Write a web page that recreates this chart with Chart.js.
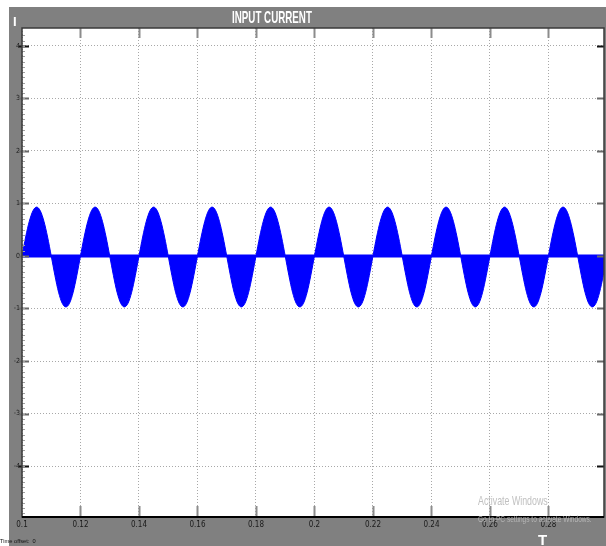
<!DOCTYPE html>
<html>
<head>
<meta charset="utf-8">
<script src="https://cdn.jsdelivr.net/npm/chart.js@4"></script>
<style>
  body { margin: 0; width: 606px; height: 546px; overflow: hidden; position: relative; background: #fff; font-family: "Liberation Sans", sans-serif; }
  #panel { position: absolute; left: 9px; top: 7px; width: 597px; height: 539px; background: #808080; }
  #plot { position: absolute; left: 0; top: 0; }
  .txt { position: absolute; white-space: nowrap; transform-origin: 0 0; }
  #title { left: 232px; top: 8px; color: #fff; font: bold 17px "Liberation Sans", sans-serif; }
  #cursorI { left: 13px; top: 14px; color: #fff; font: bold 13px "Liberation Sans", sans-serif; }
  #cursorT { left: 538px; top: 531px; color: #fff; font: bold 15px "Liberation Sans", sans-serif; }
  #offset { left: 0; top: 538px; color: #111; font: 6px "Liberation Sans", sans-serif; }
  #wm1 { left: 478px; top: 493px; color: rgba(185,185,185,0.9); font: 13px "Liberation Sans", sans-serif; }
  #wm2 { left: 478px; top: 514px; color: rgba(190,190,190,0.85); font: 9px "Liberation Sans", sans-serif; }
</style>
</head>
<body>
<div id="panel"><canvas id="plot" width="597" height="539"></canvas></div>
<div class="txt" id="title" data-w="80">INPUT CURRENT</div>
<div class="txt" id="cursorI">I</div>
<div class="txt" id="cursorT">T</div>
<div class="txt" id="offset" data-w="36">Time offset:&nbsp; 0</div>
<div class="txt" id="wm1" data-w="70">Activate Windows</div>
<div class="txt" id="wm2" data-w="114">Go to PC settings to activate Windows.</div>
<script>
'use strict';

// sample times (s) and input current envelope
let times = [
  0.10000, 0.10125, 0.10250, 0.10375, 0.10500, 0.10625, 0.10750, 0.10875,
  0.11000, 0.11125, 0.11250, 0.11375, 0.11500, 0.11625, 0.11750, 0.11875,
  0.12000, 0.12125, 0.12250, 0.12375, 0.12500, 0.12625, 0.12750, 0.12875,
  0.13000, 0.13125, 0.13250, 0.13375, 0.13500, 0.13625, 0.13750, 0.13875,
  0.14000, 0.14125, 0.14250, 0.14375, 0.14500, 0.14625, 0.14750, 0.14875,
  0.15000, 0.15125, 0.15250, 0.15375, 0.15500, 0.15625, 0.15750, 0.15875,
  0.16000, 0.16125, 0.16250, 0.16375, 0.16500, 0.16625, 0.16750, 0.16875,
  0.17000, 0.17125, 0.17250, 0.17375, 0.17500, 0.17625, 0.17750, 0.17875,
  0.18000, 0.18125, 0.18250, 0.18375, 0.18500, 0.18625, 0.18750, 0.18875,
  0.19000, 0.19125, 0.19250, 0.19375, 0.19500, 0.19625, 0.19750, 0.19875,
  0.20000, 0.20125, 0.20250, 0.20375, 0.20500, 0.20625, 0.20750, 0.20875,
  0.21000, 0.21125, 0.21250, 0.21375, 0.21500, 0.21625, 0.21750, 0.21875,
  0.22000, 0.22125, 0.22250, 0.22375, 0.22500, 0.22625, 0.22750, 0.22875,
  0.23000, 0.23125, 0.23250, 0.23375, 0.23500, 0.23625, 0.23750, 0.23875,
  0.24000, 0.24125, 0.24250, 0.24375, 0.24500, 0.24625, 0.24750, 0.24875,
  0.25000, 0.25125, 0.25250, 0.25375, 0.25500, 0.25625, 0.25750, 0.25875,
  0.26000, 0.26125, 0.26250, 0.26375, 0.26500, 0.26625, 0.26750, 0.26875,
  0.27000, 0.27125, 0.27250, 0.27375, 0.27500, 0.27625, 0.27750, 0.27875,
  0.28000, 0.28125, 0.28250, 0.28375, 0.28500, 0.28625, 0.28750, 0.28875,
  0.29000, 0.29125, 0.29250, 0.29375, 0.29500, 0.29625, 0.29750, 0.29875,
  0.30000
];
let current = [
  0, 0.36, 0.66, 0.86, 0.93, 0.86, 0.66, 0.36, 0, -0.37, -0.69, -0.90, -0.97, -0.90, -0.69, -0.37,
  0, 0.36, 0.66, 0.86, 0.93, 0.86, 0.66, 0.36, 0, -0.37, -0.69, -0.90, -0.97, -0.90, -0.69, -0.37,
  0, 0.36, 0.66, 0.86, 0.93, 0.86, 0.66, 0.36, 0, -0.37, -0.69, -0.90, -0.97, -0.90, -0.69, -0.37,
  0, 0.36, 0.66, 0.86, 0.93, 0.86, 0.66, 0.36, 0, -0.37, -0.69, -0.90, -0.97, -0.90, -0.69, -0.37,
  0, 0.36, 0.66, 0.86, 0.93, 0.86, 0.66, 0.36, 0, -0.37, -0.69, -0.90, -0.97, -0.90, -0.69, -0.37,
  0, 0.36, 0.66, 0.86, 0.93, 0.86, 0.66, 0.36, 0, -0.37, -0.69, -0.90, -0.97, -0.90, -0.69, -0.37,
  0, 0.36, 0.66, 0.86, 0.93, 0.86, 0.66, 0.36, 0, -0.37, -0.69, -0.90, -0.97, -0.90, -0.69, -0.37,
  0, 0.36, 0.66, 0.86, 0.93, 0.86, 0.66, 0.36, 0, -0.37, -0.69, -0.90, -0.97, -0.90, -0.69, -0.37,
  0, 0.36, 0.66, 0.86, 0.93, 0.86, 0.66, 0.36, 0, -0.37, -0.69, -0.90, -0.97, -0.90, -0.69, -0.37,
  0, 0.36, 0.66, 0.86, 0.93, 0.86, 0.66, 0.36, 0, -0.37, -0.69, -0.90, -0.97, -0.90, -0.69, -0.37,
  0
];
let baseTimes = [0.1, 0.3];
let baseValues = [0, 0];

let xTicks = [0.1, 0.12, 0.14, 0.16, 0.18, 0.2, 0.22, 0.24, 0.26, 0.28];
let xTickLabels = ['0.1', '0.12', '0.14', '0.16', '0.18', '0.2', '0.22', '0.24', '0.26', '0.28'];
let yTicks = [-4, -3, -2, -1, 0, 1, 2, 3, 4];

let tickFont = '"Liberation Sans Narrow", "DejaVu Sans Condensed", "Liberation Sans", sans-serif';

// squeeze the condensed screen texts to their measured widths
document.querySelectorAll('.txt[data-w]').forEach(function (el) {
  let w = parseFloat(el.dataset.w);
  el.style.transform = 'scaleX(' + (w / el.offsetWidth) + ')';
});

let scopeFrame = {
  id: 'scopeFrame',
  beforeDraw: function (chart) {
    let a = chart.chartArea;
    let ctx = chart.ctx;
    ctx.save();
    ctx.fillStyle = '#ffffff';
    ctx.fillRect(a.left, a.top, a.right - a.left, a.bottom - a.top);
    ctx.restore();
  },
  afterDraw: function (chart) {
    let a = chart.chartArea;
    let ctx = chart.ctx;
    let xs = chart.scales.x;
    let ys = chart.scales.y;
    ctx.save();
    // inner tick marks
    ctx.strokeStyle = '#8c8c8c';
    ctx.lineWidth = 2;
    xTicks.forEach(function (v, i) {
      if (i === 0) return;
      let px = Math.round(xs.getPixelForValue(v)) + 0.5;
      ctx.beginPath();
      ctx.moveTo(px, a.top); ctx.lineTo(px, a.top + 10);
      ctx.moveTo(px, a.bottom); ctx.lineTo(px, a.bottom - 11);
      ctx.stroke();
    });
    yTicks.forEach(function (v) {
      let py = Math.round(ys.getPixelForValue(v)) + 0.5;
      ctx.strokeStyle = (v === 4 || v === -4) ? '#111' : '#6a6a6a';
      ctx.beginPath();
      ctx.moveTo(a.left - 3, py); ctx.lineTo(a.left + 7, py);
      ctx.moveTo(a.right, py); ctx.lineTo(a.right - 7, py);
      ctx.stroke();
    });
    // minor ticks on the left edge
    ctx.strokeStyle = '#a0a0a0';
    ctx.lineWidth = 1;
    for (let v = -4.9; v < 4.3; v += 0.1) {
      let py = Math.round(ys.getPixelForValue(v)) + 0.5;
      ctx.beginPath();
      ctx.moveTo(a.left, py); ctx.lineTo(a.left + 3, py);
      ctx.stroke();
    }
    // frame
    ctx.strokeStyle = '#3a3a3a';
    ctx.lineWidth = 1.5;
    ctx.strokeRect(a.left, a.top, a.right - a.left, a.bottom - a.top);
    ctx.strokeStyle = '#000';
    ctx.lineWidth = 2;
    ctx.beginPath();
    ctx.moveTo(a.left, a.bottom); ctx.lineTo(a.right, a.bottom);
    ctx.stroke();
    ctx.restore();
  }
};

let ctx = document.getElementById('plot').getContext('2d');
let chart = new Chart(ctx, { //eslint-disable-line
  type: 'line',
  data: {
    datasets: [{
      label: 'Input current',
      data: times.map(function (t, i) { return { x: t, y: current[i] }; }),
      borderColor: '#0000ff',
      backgroundColor: '#0000ff',
      borderWidth: 1,
      fill: 'origin',
      pointRadius: 0,
      cubicInterpolationMode: 'monotone'
    },
    {
      label: 'baseline',
      data: baseTimes.map(function (t, i) { return { x: t, y: baseValues[i] }; }),
      borderColor: '#0000ff',
      borderWidth: 3,
      fill: false,
      pointRadius: 0
    }]
  },
  options: {
    responsive: false,
    animation: false,
    layout: { padding: { top: 21, right: 2, left: 0, bottom: 0 } },
    plugins: { legend: { display: false }, tooltip: { enabled: false } },
    scales: {
      x: {
        type: 'linear',
        min: 0.1,
        max: 0.299,
        afterBuildTicks: function (s) { s.ticks = xTicks.map(function (v) { return { value: v }; }); },
        afterFit: function (s) { s.height = 29; },
        ticks: {
          autoSkip: false,
          maxRotation: 0,
          padding: 3,
          color: '#1a1a1a',
          font: { family: tickFont, size: 8 },
          callback: function (v, i) { return xTickLabels[i]; }
        },
        grid: { color: '#a8a8a8', lineWidth: 1, drawTicks: false },
        border: { display: false, dash: [1, 2] }
      },
      y: {
        min: -4.97,
        max: 4.34,
        afterBuildTicks: function (s) { s.ticks = yTicks.map(function (v) { return { value: v }; }); },
        afterFit: function (s) { s.width = 13; },
        ticks: {
          padding: 2,
          color: '#1a1a1a',
          font: { family: tickFont, size: 7 },
          callback: function (v) { return String(v); }
        },
        grid: { color: '#a8a8a8', lineWidth: 1, drawTicks: false },
        border: { display: false, dash: [1, 2] }
      }
    }
  },
  plugins: [scopeFrame]
});
</script>
</body>
</html>
